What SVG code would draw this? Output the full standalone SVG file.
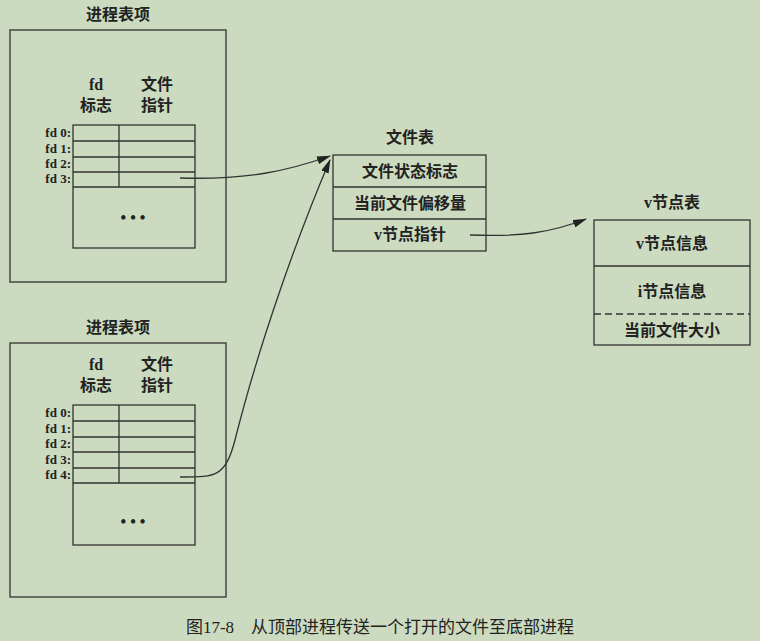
<svg xmlns="http://www.w3.org/2000/svg" width="760" height="641" viewBox="0 0 760 641">
<defs>
<marker id="ah" markerWidth="14" markerHeight="8" refX="13" refY="4" orient="auto" markerUnits="userSpaceOnUse"><path d="M0,0 L14,4 L0,8 z" fill="#222"/></marker>
<style>
text{font-family:"Liberation Serif","Noto Sans CJK SC",serif;fill:#222;font-size:16px;text-anchor:middle;font-weight:bold}
.fd{text-anchor:end;font-size:13px}
.cap{font-weight:normal;font-size:17px}
.b{fill:none;stroke:#333;stroke-width:1.3}
.c{fill:none;stroke:#333;stroke-width:1.3}
</style>
</defs>
<rect width="760" height="641" fill="#ccdbbf"/>
<g id="proc1">
<text x="118" y="20">进程表项</text>
<rect class="b" x="10" y="30" width="216" height="252"/>
<text x="96" y="90">fd</text><text x="96" y="111">标志</text>
<text x="157" y="90">文件</text><text x="157" y="111">指针</text>
<rect class="b" x="73" y="125" width="122" height="123"/>
<path class="b" d="M73,141H195M73,157H195M73,172H195M73,187H195M119,125V187"/>
<text class="fd" x="71" y="137">fd 0:</text><text class="fd" x="71" y="153">fd 1:</text><text class="fd" x="71" y="168">fd 2:</text><text class="fd" x="71" y="183">fd 3:</text>
<text x="133" y="223" font-size="18">• • •</text>
</g>
<g id="proc2">
<text x="118" y="333">进程表项</text>
<rect class="b" x="10" y="343" width="216" height="254"/>
<text x="96" y="370">fd</text><text x="96" y="391">标志</text>
<text x="157" y="370">文件</text><text x="157" y="391">指针</text>
<rect class="b" x="73" y="405" width="122" height="140"/>
<path class="b" d="M73,421H195M73,437H195M73,452H195M73,468H195M73,483H195M119,405V483"/>
<text class="fd" x="71" y="417">fd 0:</text><text class="fd" x="71" y="433">fd 1:</text><text class="fd" x="71" y="448">fd 2:</text><text class="fd" x="71" y="464">fd 3:</text><text class="fd" x="71" y="479">fd 4:</text>
<text x="133" y="527" font-size="18">• • •</text>
</g>
<g id="filetable">
<text x="410" y="143">文件表</text>
<rect class="b" x="333" y="155" width="153" height="96"/>
<path class="b" d="M333,187H486M333,219H486"/>
<text x="410" y="177">文件状态标志</text>
<text x="410" y="209">当前文件偏移量</text>
<text x="410" y="240">v节点指针</text>
</g>
<g id="vnode">
<text x="672" y="208">v节点表</text>
<rect class="b" x="594" y="220" width="156" height="125"/>
<path class="b" d="M594,266H750"/>
<path class="b" d="M594,314H750" stroke-dasharray="7,4"/>
<text x="672" y="249">v节点信息</text>
<text x="672" y="297">i节点信息</text>
<text x="672" y="336">当前文件大小</text>
</g>
<g id="connectors">
<path class="c" d="M180,178 C250,180 290,170 330,156" marker-end="url(#ah)"/>
<path class="c" d="M180,477 C215,477 225,478 235,440 C260,340 300,230 330,160" marker-end="url(#ah)"/>
<path class="c" d="M470,235 C520,237 550,233 586,219" marker-end="url(#ah)"/>
</g>
<text class="cap" x="380" y="633">图17-8　从顶部进程传送一个打开的文件至底部进程</text>
</svg>
